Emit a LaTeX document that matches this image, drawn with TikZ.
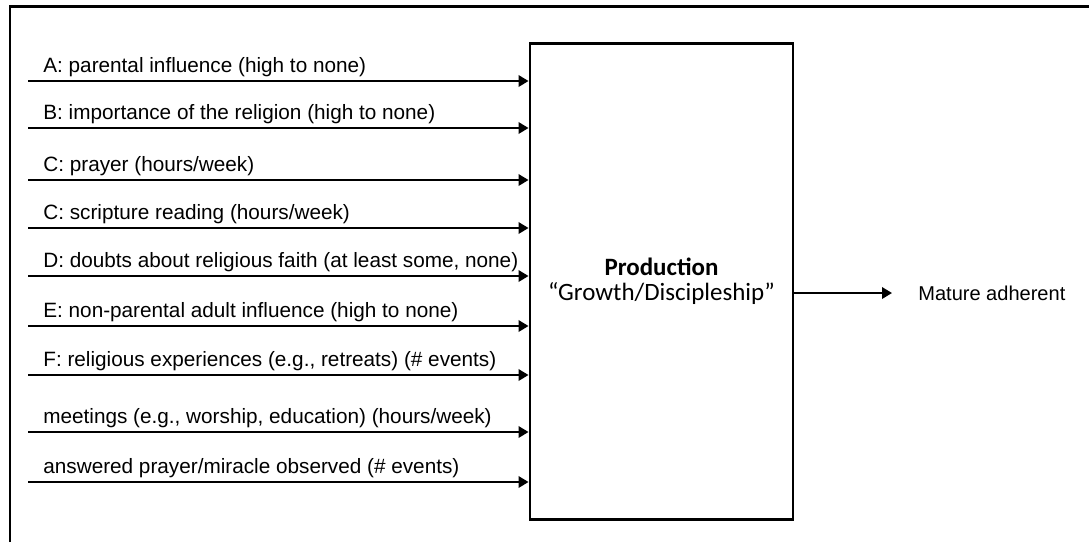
\documentclass[tikz,border=0pt]{standalone}
\usepackage{fontspec}
\setmainfont{Liberation Sans}
\newfontfamily\boxfont{Carlito}
\usepackage{tikz}
\usetikzlibrary{arrows.meta, positioning, calc}

\begin{document}
\begin{tikzpicture}[
    frame/.style={line width=1.7pt, black},
    procbox/.style={draw, line width=1.7pt, minimum width=5.26cm, minimum height=9.52cm,
                inner sep=0pt, align=center, font=\boxfont\fontsize{14.2}{14.5}\selectfont},
    lab/.style={anchor=base west, inner sep=0pt, font=\fontsize{11.8}{13}\selectfont},
    arrow/.style={-{Triangle[length=2mm, width=2.3mm]}, line width=1.1pt}
  ]
    \useasboundingbox (0,0) rectangle (21.78,-10.84);
    \draw[frame] (0.2,-10.84) -- (0.2,-0.12) -- (21.78,-0.12);

    \node[procbox] (prod) at (13.23,-5.62) {\textbf{Production}\\“Growth/Discipleship”};

    \coordinate (inA) at (0.56,-1.62);
    \coordinate (inB) at (0.56,-2.56);
    \coordinate (inC) at (0.56,-3.60);
    \coordinate (inCs) at (0.56,-4.56);
    \coordinate (inD) at (0.56,-5.52);
    \coordinate (inE) at (0.56,-6.52);
    \coordinate (inF) at (0.56,-7.50);
    \coordinate (inM) at (0.56,-8.64);
    \coordinate (inP) at (0.56,-9.64);

    \node[lab] (labA) at ($(inA)+(0.3,0.18)$) {A: parental influence (high to none)};
    \node[lab] (labB) at ($(inB)+(0.3,0.18)$) {B: importance of the religion (high to none)};
    \node[lab] (labC) at ($(inC)+(0.3,0.18)$) {C: prayer (hours/week)};
    \node[lab] (labCs) at ($(inCs)+(0.3,0.18)$) {C: scripture reading (hours/week)};
    \node[lab] (labD) at ($(inD)+(0.3,0.18)$) {D: doubts about religious faith (at least some, none)};
    \node[lab] (labE) at ($(inE)+(0.3,0.18)$) {E: non-parental adult influence (high to none)};
    \node[lab] (labF) at ($(inF)+(0.3,0.18)$) {F: religious experiences (e.g., retreats) (\# events)};
    \node[lab] (labM) at ($(inM)+(0.3,0.18)$) {meetings (e.g., worship, education) (hours/week)};
    \node[lab] (labP) at ($(inP)+(0.3,0.18)$) {answered prayer/miracle observed (\# events)};

    \draw[arrow] (inA) -- (inA -| prod.west);
    \draw[arrow] (inB) -- (inB -| prod.west);
    \draw[arrow] (inC) -- (inC -| prod.west);
    \draw[arrow] (inCs) -- (inCs -| prod.west);
    \draw[arrow] (inD) -- (inD -| prod.west);
    \draw[arrow] (inE) -- (inE -| prod.west);
    \draw[arrow] (inF) -- (inF -| prod.west);
    \draw[arrow] (inM) -- (inM -| prod.west);
    \draw[arrow] (inP) -- (inP -| prod.west);

    \coordinate (outEnd) at (17.84,-5.86);
    \node[anchor=west, inner sep=0pt, font=\fontsize{11.4}{13}\selectfont] (mature) at (18.36,-5.86) {Mature adherent};
    \draw[arrow] (outEnd -| prod.east) -- (outEnd);
  \end{tikzpicture}
\end{document}
